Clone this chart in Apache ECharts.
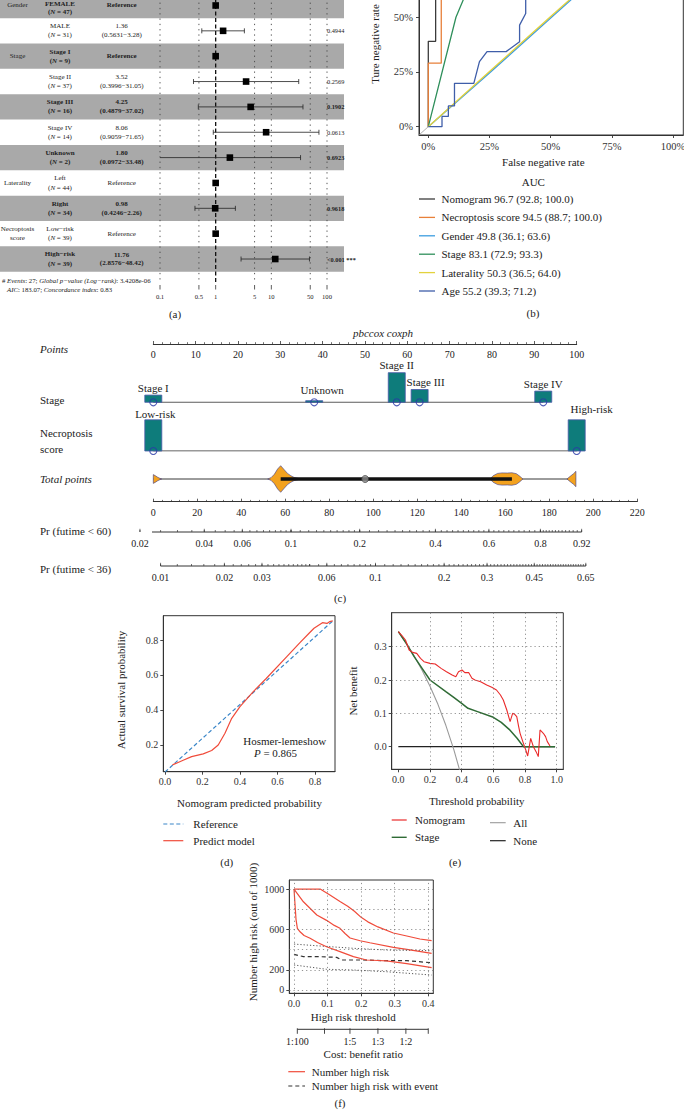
<!DOCTYPE html>
<html><head><meta charset="utf-8">
<script src="https://cdn.jsdelivr.net/npm/echarts@6/dist/echarts.min.js"></script>
<style>html,body{margin:0;padding:0;background:#fff}#c{width:684px;height:1110px}</style>
</head><body><div id="c"></div>
<script>
const FONT = '"Liberation Serif","Times New Roman",serif';

// ===== (a) forest plot =====
const forestGroups = ['Gender', '', 'Stage', '', '', '', '', 'Laterality', '', 'Necroptosis|score', ''];
const forestSub = ['FEMALE', 'MALE', 'Stage I', 'Stage II', 'Stage III', 'Stage IV', 'Unknown', 'Left', 'Right', 'Low−risk', 'High−risk'];
const forestN = [47, 31, 9, 37, 16, 14, 2, 44, 34, 39, 39];
const forestHR = [null, 1.36, null, 3.52, 4.25, 8.06, 1.80, null, 0.98, null, 11.76];
const forestLo = [null, 0.5631, null, 0.3996, 0.4879, 0.9059, 0.0972, null, 0.4246, null, 2.8576];
const forestHi = [null, 3.28, null, 31.05, 37.02, 71.65, 33.48, null, 2.26, null, 48.42];
const forestP = ['', '0.4944', '', '0.2569', '0.1902', '0.0613', '0.6923', '', '0.9618', '', '<0.001 ***'];
const forestShaded = [1, 0, 1, 0, 1, 0, 1, 0, 1, 0, 1];
const forestTicks = [0.1, 0.5, 1, 5, 10, 50, 100];

// ===== (b) ROC =====
const rocNames = ['Nomogram 96.7 (92.8; 100.0)', 'Necroptosis score 94.5 (88.7; 100.0)', 'Gender 49.8 (36.1; 63.6)', 'Stage 83.1 (72.9; 93.3)', 'Laterality 50.3 (36.5; 64.0)', 'Age 55.2 (39.3; 71.2)'];
const rocNomogram = [[0,0],[0,0.39],[0.03,0.39],[0.03,0.72],[0.06,0.9],[0.12,1],[1,1]];
const rocNecro = [[0,0],[0,0.29],[0.053,0.29],[0.053,0.78],[0.16,1],[1,1]];
const rocGender = [[0,0],[0.25,0.245],[0.5,0.496],[0.75,0.748],[1,1]];
const rocStage = [[0,0],[0.113,0.5],[0.143,0.58],[0.25,0.78],[0.5,0.93],[1,1]];
const rocLaterality = [[0,0],[0.25,0.252],[0.5,0.503],[0.75,0.752],[1,1]];
const rocAge = [[0,0],[0.056,0],[0.056,0.047],[0.082,0.047],[0.082,0.095],[0.107,0.095],[0.107,0.198],[0.186,0.198],[0.209,0.297],[0.24,0.343],[0.318,0.343],[0.373,0.388],[0.373,0.464],[0.398,0.517],[0.398,0.65],[0.5,0.72],[0.7,0.85],[1,1]];
const rocDiag = [[-0.1,-0.1],[1.1,1.1]];
const rocTicks = [0, 0.25, 0.5, 0.75, 1];

// ===== (c) nomogram =====
const stageLevels = ['Stage I', 'Unknown', 'Stage II', 'Stage III', 'Stage IV'];
const stagePoints = [0, 38.0, 57.5, 62.9, 92.1];
const stageCounts = [9, 2, 37, 16, 14];
const riskLevels = ['Low-risk', 'High-risk'];
const riskPoints = [0, 100];
const riskCounts = [39, 39];
const violinShapes = [
  [[0,0.33],[1,0.24],[2,0.13],[3,0.05],[3.8,0]],
  [[52,0],[53.5,0.1],[55,0.35],[56.5,0.75],[57.9,1],[59.5,0.7],[61,0.42],[62.5,0.25],[64,0.12],[66,0.04],[68,0]],
  [[153,0],[154.5,0.25],[156.5,0.42],[158.5,0.46],[161,0.45],[163,0.47],[165,0.4],[166.5,0.22],[168,0]],
  [[188,0],[189.5,0.2],[191,0.4],[192.1,0.58]]
];
const totalIQR = [57.9, 163];
const totalMedian = 96.3;
const pr60Labels = [0.02, 0.04, 0.06, 0.1, 0.2, 0.4, 0.6, 0.8, 0.92];
const pr36Labels = [0.01, 0.02, 0.03, 0.06, 0.1, 0.2, 0.3, 0.45, 0.65];
const pr60AnchorTotal = 62.6;   // total points where Pr(futime<60)=0.1
const pr36AnchorTotal = 101.0;  // total points where Pr(futime<36)=0.1
const prSlope = 0.02405;        // change of log(-log(1-p)) per total point

// ===== (d) calibration =====
const calRef = [[0,0.045],[0.895,0.909]];
const calPred = [[0.04,0.086],[0.07,0.1],[0.1,0.114],[0.142,0.133],[0.204,0.149],[0.249,0.168],[0.284,0.2],[0.32,0.267],[0.356,0.352],[0.4,0.419],[0.471,0.505],[0.54,0.58],[0.65,0.705],[0.72,0.785],[0.77,0.84],[0.795,0.867],[0.84,0.899],[0.864,0.895],[0.878,0.905],[0.895,0.909]];

// ===== (e) decision curve =====
const dcaNomogram = [[0,0.345],[0.02,0.335],[0.045,0.32],[0.068,0.29],[0.09,0.283],[0.116,0.28],[0.14,0.265],[0.162,0.255],[0.2,0.25],[0.233,0.248],[0.27,0.235],[0.304,0.225],[0.34,0.215],[0.363,0.21],[0.38,0.225],[0.402,0.23],[0.42,0.222],[0.445,0.222],[0.465,0.205],[0.484,0.2],[0.52,0.195],[0.558,0.185],[0.59,0.178],[0.62,0.17],[0.645,0.155],[0.663,0.14],[0.685,0.11],[0.706,0.075],[0.722,0.1],[0.735,0.097],[0.748,0.09],[0.76,0.06],[0.769,0.04],[0.79,0.01],[0.805,-0.01],[0.817,-0.028],[0.836,0.025],[0.853,0],[0.87,-0.015],[0.884,-0.03],[0.895,0.05],[0.916,0.04],[0.93,0.03],[0.941,0.015],[0.958,0.002]];
const dcaStage = [[0,0.345],[0.05,0.31],[0.1,0.27],[0.15,0.235],[0.2,0.2],[0.3,0.165],[0.35,0.148],[0.4,0.13],[0.44,0.115],[0.5,0.105],[0.6,0.088],[0.65,0.073],[0.7,0.052],[0.75,0.025],[0.79,0],[0.99,0]];
const dcaAll = [[0,0.345],[0.05,0.31],[0.1,0.272],[0.15,0.229],[0.2,0.181],[0.25,0.127],[0.3,0.064],[0.35,-0.008],[0.4,-0.092]];
const dcaNone = [[0,0],[0.99,0]];

// ===== (f) clinical impact =====
const ciHighUpper = [[0,1000],[0.078,1000],[0.107,941],[0.137,878],[0.16,830],[0.18,780],[0.2,720],[0.22,675],[0.25,625],[0.296,565],[0.336,535],[0.375,505],[0.41,490]];
const ciHigh = [[0,1000],[0.028,874],[0.068,743],[0.097,690],[0.12,640],[0.137,611],[0.152,560],[0.167,515],[0.197,488],[0.226,468],[0.296,423],[0.336,403],[0.41,363]];
const ciHighLower = [[0,1000],[0.003,850],[0.006,700],[0.01,610],[0.018,577],[0.03,540],[0.048,512],[0.07,470],[0.097,429],[0.137,380],[0.177,330],[0.216,297],[0.25,292],[0.275,288],[0.336,262],[0.41,221]];
const ciEvent = [[0,353],[0.028,330],[0.077,330],[0.127,323],[0.142,297],[0.206,297],[0.275,290],[0.336,290],[0.41,270]];
const ciEventUpper = [[0,455],[0.077,436],[0.177,413],[0.275,396],[0.41,389]];
const ciEventLower = [[0,248],[0.038,231],[0.097,205],[0.177,198],[0.275,181],[0.41,148]];
const cbThresholds = [0.0099, 0.0909, 0.1667, 0.25, 0.3333, 0.4];
const cbLabels = ['1:100', '', '1:5', '1:3', '1:2', ''];

// ================= build chart =================
const chart = echarts.init(document.getElementById('c'), null, {renderer: 'svg', width: 684, height: 1110});
const grids = [], xAxes = [], yAxes = [], series = [], elements = [];
const AX = '#333';

function hidden(gi, min, max, extra) {
  return Object.assign({gridIndex: gi, type: 'value', min, max, show: false, axisLine: {show: false, onZero: false}, splitLine: {show: false}}, extra || {});
}
function visible(gi, min, max, ticks, fmt, labels, extra) {
  return Object.assign({gridIndex: gi, type: 'value', min, max, show: true,
    axisLine: {show: true, onZero: false, lineStyle: {color: AX, width: 1}},
    axisTick: {show: true, customValues: ticks, length: 3, lineStyle: {color: AX, width: 0.9}},
    axisLabel: {show: true, customValues: labels || ticks, formatter: fmt, fontSize: 10, color: '#333', fontFamily: FONT, margin: 5},
    splitLine: {show: false}, minorTick: {show: false}}, extra || {});
}
function grid(left, top, width, height, border) {
  grids.push({left, top, width, height, containLabel: false, outerBoundsMode: 'none', show: !!border, borderColor: '#333', borderWidth: border ? 1 : 0, backgroundColor: 'rgba(0,0,0,0)'});
  return grids.length - 1;
}
function lineS(gi, data, color, width, dash, extra) {
  return Object.assign({type: 'line', xAxisIndex: gi, yAxisIndex: gi, data, symbol: 'none', silent: true, animation: false,
    lineStyle: {color, width: width || 1.2, type: dash || 'solid'}, z: 3}, extra || {});
}
function T(text, x, y, o) {
  o = o || {};
  const st = {text, x: 0, y: 0, fill: o.color || '#222', fontFamily: FONT, fontSize: o.size || 11,
    fontStyle: o.italic ? 'italic' : 'normal', fontWeight: o.bold ? 'bold' : 'normal', align: o.align || 'center', verticalAlign: 'middle'};
  if (o.rich) st.rich = o.rich;
  return {type: 'text', x, y, rotation: o.rot || 0, silent: true, style: st};
}
function Lg(x1, y1, x2, y2, color, w, dash) {
  return {type: 'line', silent: true, shape: {x1, y1, x2, y2}, style: {stroke: color, lineWidth: w || 1.2, lineDash: dash || null}};
}
const fmt1 = v => v.toFixed(1);

// ---- (a) grids 0 (table) and 1 (forest)
const FS = 7;
const rowIds = forestSub.map((_, i) => String(i));
const g0 = grid(0, -7.2, 344, 278.9);
xAxes.push(hidden(g0, 0, 1));
yAxes.push({gridIndex: g0, type: 'category', data: rowIds, inverse: true, show: false});
const g1 = grid(160, -7.2, 167, 278.9);
xAxes.push({gridIndex: g1, type: 'log', logBase: 10, min: 0.1, max: 100, show: false, axisLine: {show: false, onZero: false}, splitLine: {show: false}});
yAxes.push({gridIndex: g1, type: 'category', data: rowIds, inverse: true, show: false});

series.push({type: 'bar', xAxisIndex: g0, yAxisIndex: g0, data: forestShaded.map(s => s ? 1 : '-'), barWidth: '100%', barGap: '0%',
  itemStyle: {color: '#a9a9a9'}, silent: true, animation: false, z: 1});

series.push({type: 'custom', xAxisIndex: g1, yAxisIndex: g1, clip: false, silent: true, z: 2,
  data: forestTicks.map(v => [v, 0]),
  renderItem: (params, api) => {
    const v = forestTicks[params.dataIndex];
    const x = api.coord([v, 0])[0];
    const one = v === 1;
    return {type: 'group', children: [
      {type: 'line', shape: {x1: x, y1: -8, x2: x, y2: 283}, style: {stroke: one ? '#111' : '#444', lineWidth: one ? 1.3 : 0.9, lineDash: one ? [4, 2.5] : [1.3, 4]}},
      {type: 'line', shape: {x1: x, y1: 285, x2: x, y2: 289.5}, style: {stroke: '#333', lineWidth: 0.8}},
      {type: 'text', style: {text: String(v), x, y: 296, align: 'center', verticalAlign: 'middle', fontSize: 6.6, fontFamily: FONT, fill: '#222'}}
    ]};
  }});

series.push({type: 'custom', xAxisIndex: g0, yAxisIndex: g0, clip: false, silent: true, z: 3,
  data: rowIds.map(i => [0, Number(i)]),
  renderItem: (params, api) => {
    const i = params.dataIndex;
    const y = api.coord([0, i])[1];
    const bold = forestShaded[i] ? 'bold' : 'normal';
    const base = {fontFamily: FONT, fontSize: FS, fill: '#222', align: 'center', verticalAlign: 'middle', fontWeight: bold};
    const ch = [];
    const y1 = Math.max(y - 4.6, 4), y2 = Math.max(y + 4.6, y1 + 7.6);
    if (forestGroups[i]) {
      const parts = forestGroups[i].split('|');
      parts.forEach((p, k) => ch.push({type: 'text', style: Object.assign({}, base, {text: p, x: 17.5, y: Math.max(y + (k - (parts.length - 1) / 2) * 9, 4), fontWeight: 'normal'})}));
    }
    ch.push({type: 'text', style: Object.assign({}, base, {text: forestSub[i], x: 60, y: y1})});
    ch.push({type: 'text', style: Object.assign({}, base, {text: '({i|N} = ' + forestN[i] + ')', x: 60, y: y2,
      rich: {i: {fontStyle: 'italic', fontFamily: FONT, fontSize: FS, fontWeight: bold, fill: '#222'}}})});
    if (forestHR[i] == null) {
      ch.push({type: 'text', style: Object.assign({}, base, {text: 'Reference', x: 121.7, y: Math.max(y, 4)})});
    } else {
      ch.push({type: 'text', style: Object.assign({}, base, {text: forestHR[i].toFixed(2), x: 121.7, y: y - 4.4})});
      ch.push({type: 'text', style: Object.assign({}, base, {text: '(' + forestLo[i] + '−' + forestHi[i] + ')', x: 121.7, y: y + 4.4})});
    }
    if (forestP[i]) ch.push({type: 'text', style: Object.assign({}, base, {text: forestP[i], x: 327, y, align: 'left', fontSize: 6.3})});
    return {type: 'group', children: ch};
  }});

series.push({type: 'custom', xAxisIndex: g1, yAxisIndex: g1, clip: false, silent: true, z: 4,
  data: forestSub.map((_, i) => [forestHR[i] == null ? 1 : forestHR[i], i]),
  renderItem: (params, api) => {
    const i = params.dataIndex;
    const c = api.coord([api.value(0), i]);
    const xMin = api.coord([0.1, i])[0], xMax = api.coord([100, i])[0];
    const ch = [];
    if (forestLo[i] != null) {
      const lo = api.coord([forestLo[i], i])[0], hi = api.coord([forestHi[i], i])[0];
      ch.push({type: 'line', shape: {x1: Math.max(lo, xMin), y1: c[1], x2: Math.min(hi, xMax), y2: c[1]}, style: {stroke: '#222', lineWidth: 0.8}});
      [lo, hi].forEach(x => { if (x >= xMin - 0.1 && x <= xMax + 0.1) ch.push({type: 'line', shape: {x1: x, y1: c[1] - 2.5, x2: x, y2: c[1] + 2.5}, style: {stroke: '#222', lineWidth: 0.8}}); });
    }
    ch.push({type: 'rect', shape: {x: c[0] - 3.3, y: c[1] - 3.3, width: 6.6, height: 6.6}, style: {fill: '#000'}});
    return {type: 'group', children: ch};
  }});

const itRich = {i: {fontStyle: 'italic', fontFamily: FONT, fontSize: 6.8, fill: '#222'}};
elements.push(T('# {i|Events}: 27; {i|Global p−value (Log−rank)}: 3.4208e-06', 2, 280, {align: 'left', size: 6.8, rich: itRich}));
elements.push(T('{i|AIC}: 183.07; {i|Concordance index}: 0.83', 7, 289.5, {align: 'left', size: 6.8, rich: itRich}));
elements.push(T('(a)', 175, 314, {size: 11}));

// ---- (b) ROC grid 2
const g2 = grid(419, -2, 264.3, 137, true);
const pct = v => Math.round(v * 100) + '%';
xAxes.push(visible(g2, -0.038, 1.042, rocTicks, pct, null, {axisLabel: {customValues: rocTicks, formatter: pct, fontSize: 10.5, color: '#333', fontFamily: FONT, margin: 6}}));
yAxes.push(visible(g2, -0.038, 0.588, [0, 0.25, 0.5], pct, null, {axisLabel: {customValues: [0, 0.25, 0.5], formatter: pct, fontSize: 10.5, color: '#333', fontFamily: FONT, margin: 6}}));
series.push(lineS(g2, rocDiag, '#9a9a9a', 0.8));
const rocCurves = [rocNomogram, rocNecro, rocGender, rocStage, rocLaterality, rocAge];
const rocColors = ['#3b3b3b', '#e8803a', '#3d9de0', '#2f8f5b', '#e3d23d', '#3f5ea9'];
rocCurves.forEach((d, k) => series.push(lineS(g2, d, rocColors[k], 1.3)));
elements.push(T('Ture negative rate', 375, 44, {rot: Math.PI / 2}));
elements.push(T('False negative rate', 543.3, 162.3));
elements.push(T('AUC', 533.3, 182.3));
rocNames.forEach((n, k) => {
  const y = 199 + k * 18.4;
  elements.push(Lg(419, y, 435, y, rocColors[k], 1.3));
  elements.push(T(n, 441.5, y, {align: 'left'}));
});
elements.push(T('(b)', 533, 313));

// ---- (c) nomogram
const g3 = grid(153.3, 330, 423.4, 14);
xAxes.push({gridIndex: g3, type: 'value', min: 0, max: 100, interval: 10, show: true,
  axisLine: {show: true, onZero: false, lineStyle: {color: AX}},
  axisTick: {show: true, inside: true, length: 3, lineStyle: {color: AX, width: 0.8}},
  minorTick: {show: true, splitNumber: 5, length: 1.8, lineStyle: {color: AX, width: 0.7}},
  axisLabel: {fontSize: 10, color: '#222', fontFamily: FONT, margin: 5}, splitLine: {show: false}});
yAxes.push(hidden(g3, 0, 1));

const g4 = grid(153.3, 362.3, 423.4, 40);
xAxes.push(hidden(g4, 0, 100)); yAxes.push(hidden(g4, 0, 50));
const g5 = grid(153.3, 411, 423.4, 40);
xAxes.push(hidden(g5, 0, 100)); yAxes.push(hidden(g5, 0, 50));
const labelShift = {'Unknown': [8, -3], 'Stage III': [6, 0], 'High-risk': [15, -3.5], 'Low-risk': [2, 1.5]};
function nomoRow(gi, pts, counts, levels) {
  series.push(lineS(gi, [[Math.min(...pts), 0], [Math.max(...pts), 0]], '#333', 1, null, {z: 2}));
  series.push({type: 'custom', xAxisIndex: gi, yAxisIndex: gi, clip: false, silent: true, z: 3,
    data: pts.map((p, k) => [p, counts[k]]),
    renderItem: (params, api) => {
      const k = params.dataIndex;
      const b = api.coord([api.value(0), 0]);
      const t = api.coord([api.value(0), api.value(1)]);
      const sh = labelShift[levels[k]] || [0, 0];
      return {type: 'group', children: [
        {type: 'rect', shape: {x: b[0] - 8.5, y: t[1], width: 17, height: b[1] - t[1]}, style: {fill: '#0e7c7b', stroke: '#4a58a8', lineWidth: 0.8}},
        {type: 'text', style: {text: levels[k], x: b[0] + sh[0], y: t[1] - 7.5 + sh[1], align: 'center', verticalAlign: 'middle', fontSize: 11, fontFamily: FONT, fill: '#222'}}
      ]};
    }});
  series.push({type: 'scatter', xAxisIndex: gi, yAxisIndex: gi, data: pts.map(p => [p, 0]), symbol: 'circle', symbolSize: 7, silent: true, z: 4,
    itemStyle: {color: 'rgba(0,0,0,0)', borderColor: '#2a3aa8', borderWidth: 1.1}});
}
nomoRow(g4, stagePoints, stageCounts, stageLevels);
nomoRow(g5, riskPoints, riskCounts, riskLevels);

const g6 = grid(153.3, 465.7, 484, 26.6);
xAxes.push(hidden(g6, 0, 220)); yAxes.push(hidden(g6, -1, 1));
const totalMin = Math.min(...stagePoints) + Math.min(...riskPoints);
const totalMax = Math.max(...stagePoints) + Math.max(...riskPoints);
series.push(lineS(g6, [[totalMin, 0], [totalMax, 0]], '#222', 0.9, null, {z: 2}));
series.push({type: 'custom', xAxisIndex: g6, yAxisIndex: g6, clip: false, silent: true, z: 3,
  data: violinShapes.map(s => [s[0][0], 0]),
  renderItem: (params, api) => {
    const s = violinShapes[params.dataIndex];
    const top = s.map(([x, h]) => api.coord([x, h]));
    const bot = s.slice().reverse().map(([x, h]) => api.coord([x, -h]));
    return {type: 'polygon', shape: {points: top.concat(bot)}, style: {fill: '#f3a21e', stroke: '#3a3a8c', lineWidth: 0.6}};
  }});
series.push(lineS(g6, totalIQR.map(v => [v, 0]), '#111', 3.4, null, {z: 4}));
series.push({type: 'scatter', xAxisIndex: g6, yAxisIndex: g6, data: [[totalMedian, 0]], symbol: 'circle', symbolSize: 7, silent: true, z: 5,
  itemStyle: {color: '#8a8a8a', borderColor: '#333', borderWidth: 0.8}});

const g7 = grid(153.3, 488, 484, 13.7);
xAxes.push({gridIndex: g7, type: 'value', min: 0, max: 220, interval: 20, show: true,
  axisLine: {show: true, onZero: false, lineStyle: {color: AX}},
  axisTick: {show: true, inside: true, length: 3, lineStyle: {color: AX, width: 0.8}},
  minorTick: {show: true, splitNumber: 5, length: 1.8, lineStyle: {color: AX, width: 0.7}},
  axisLabel: {fontSize: 10, color: '#222', fontFamily: FONT, margin: 5.5}, splitLine: {show: false}});
yAxes.push(hidden(g7, 0, 1));

function totalFromProb(p, anchor) {
  return anchor + (Math.log(-Math.log(1 - p)) - Math.log(-Math.log(0.9))) / prSlope;
}
function range(a, b, s) { const r = []; for (let k = 0; a + k * s <= b + 1e-9; k++) r.push(+(a + k * s).toFixed(5)); return r; }
function probAxis(gi, labels, minor, anchor) {
  const ticks = minor.map(p => ({p, major: false})).concat(labels.map(p => ({p, major: true})));
  series.push(lineS(gi, [[totalFromProb(labels[0], anchor), 0], [totalFromProb(labels[labels.length - 1], anchor), 0]], '#333', 1, null, {clip: false}));
  series.push({type: 'custom', xAxisIndex: gi, yAxisIndex: gi, clip: false, silent: true, z: 3,
    data: ticks.map(t => [totalFromProb(t.p, anchor), 0]),
    renderItem: (params, api) => {
      const t = ticks[params.dataIndex];
      const pt = api.coord([api.value(0), 0]);
      const ch = [{type: 'line', shape: {x1: pt[0], y1: pt[1], x2: pt[0], y2: pt[1] - (t.major ? 3.2 : 2)}, style: {stroke: '#333', lineWidth: 0.7}}];
      if (t.major) ch.push({type: 'text', style: {text: String(t.p), x: pt[0], y: pt[1] + 11, align: 'center', verticalAlign: 'middle', fontSize: 10, fontFamily: FONT, fill: '#222'}});
      return {type: 'group', children: ch};
    }});
}
const g8 = grid(153.3, 521, 484, 11);
xAxes.push(hidden(g8, 0, 220)); yAxes.push(hidden(g8, 0, 1));
probAxis(g8, pr60Labels, [...range(0.02, 0.1, 0.005), ...range(0.1, 0.2, 0.01), ...range(0.2, 0.8, 0.02), ...range(0.8, 0.92, 0.01)], pr60AnchorTotal);
const g9 = grid(153.3, 555, 484, 11);
xAxes.push(hidden(g9, 0, 220)); yAxes.push(hidden(g9, 0, 1));
probAxis(g9, pr36Labels, [...range(0.01, 0.05, 0.002), ...range(0.05, 0.1, 0.005), ...range(0.1, 0.65, 0.01)], pr36AnchorTotal);

elements.push(T('pbccox coxph', 383, 333, {italic: true}));
elements.push(T('Points', 40, 348.5, {align: 'left', italic: true}));
elements.push(T('Stage', 40, 399.5, {align: 'left'}));
elements.push(T('Necroptosis', 40, 433.3, {align: 'left'}));
elements.push(T('score', 40, 449, {align: 'left'}));
elements.push(T('Total points', 40, 479, {align: 'left', italic: true}));
elements.push(T('Pr (futime < 60)', 40, 531, {align: 'left'}));
elements.push(T('Pr (futime < 36)', 40, 569.3, {align: 'left'}));
elements.push(T('(c)', 340, 598));

// ---- (d) calibration grid 10
const g10 = grid(163.3, 615.7, 171.7, 156, true);
xAxes.push(visible(g10, -0.009, 0.907, [0, 0.2, 0.4, 0.6, 0.8], fmt1));
yAxes.push(visible(g10, 0.047, 0.939, [0.2, 0.4, 0.6, 0.8], fmt1));
series.push(lineS(g10, calRef, '#3a86c8', 1.2, [4, 2.5]));
series.push(lineS(g10, calPred, '#f04b3a', 1.2));
elements.push(T('Hosmer-lemeshow', 284.7, 741));
elements.push(T('{i|P} = 0.865', 275.5, 752.7, {rich: {i: {fontStyle: 'italic', fontFamily: FONT, fontSize: 11, fill: '#222'}}}));
elements.push(T('Nomogram predicted probability', 249.5, 803.3));
elements.push(T('Actual survival probability', 121, 690, {rot: Math.PI / 2}));
elements.push(Lg(163.3, 824, 183.3, 824, '#3a86c8', 1.2, [4, 2.5]));
elements.push(T('Reference', 193.3, 824, {align: 'left'}));
elements.push(Lg(163.3, 840.7, 183.3, 840.7, '#f04b3a', 1.2));
elements.push(T('Predict model', 193.3, 840.7, {align: 'left'}));
elements.push(T('(d)', 226.7, 861.7));

// ---- (e) DCA grid 11
const g11 = grid(391.7, 612.7, 171.6, 156.6, true);
xAxes.push(visible(g11, -0.042, 1.042, [0, 0.2, 0.4, 0.6, 0.8, 1], fmt1));
yAxes.push(visible(g11, -0.068, 0.402, [0, 0.1, 0.2, 0.3], fmt1));
const dotted = {type: [1.2, 3], color: '#777', width: 0.8};
series.push(lineS(g11, dcaNone, '#222', 1.2, null, {z: 2,
  markLine: {silent: true, symbol: ['none', 'none'], label: {show: false}, animation: false, lineStyle: dotted,
    data: [{xAxis: 0.2}, {xAxis: 0.4}, {xAxis: 0.6}, {xAxis: 0.8}, {xAxis: 1.0}, {yAxis: 0.1}, {yAxis: 0.2}, {yAxis: 0.3}]}}));
series.push(lineS(g11, dcaAll, '#9a9a9a', 1.1));
series.push(lineS(g11, dcaStage, '#2f6b35', 1.5));
series.push(lineS(g11, dcaNomogram, '#ea2a2a', 1.1));
elements.push(T('Net benefit', 353.3, 691, {rot: Math.PI / 2}));
elements.push(T('Threshold probability', 476.7, 800.7));
elements.push(Lg(391.7, 820, 406.7, 820, '#ea2a2a', 1.2));
elements.push(T('Nomogram', 415, 819.5, {align: 'left'}));
elements.push(Lg(391.7, 837.3, 406.7, 837.3, '#2f6b35', 1.4));
elements.push(T('Stage', 415, 837.3, {align: 'left'}));
elements.push(Lg(490, 822.7, 505.7, 822.7, '#9a9a9a', 1.1));
elements.push(T('All', 513.3, 822.7, {align: 'left'}));
elements.push(Lg(490, 840.7, 505.7, 840.7, '#222', 1.2));
elements.push(T('None', 513.3, 840.7, {align: 'left'}));
elements.push(T('(e)', 455, 861.7));

// ---- (f) clinical impact grid 12
const g12 = grid(289.3, 880, 144, 113.3, true);
xAxes.push(visible(g12, -0.014, 0.415, [0, 0.1, 0.2, 0.3, 0.4], fmt1));
yAxes.push(visible(g12, -33, 1090, [0, 200, 600, 1000], v => String(v)));
series.push(lineS(g12, ciEventUpper, '#555', 1, [1.2, 2], {z: 2,
  markLine: {silent: true, symbol: ['none', 'none'], label: {show: false}, animation: false, lineStyle: dotted,
    data: [{xAxis: 0}, {xAxis: 0.1}, {xAxis: 0.2}, {xAxis: 0.3}, {xAxis: 0.4}, {yAxis: 0}, {yAxis: 200}, {yAxis: 400}, {yAxis: 600}, {yAxis: 800}, {yAxis: 1000}]}}));
series.push(lineS(g12, ciEventLower, '#555', 1, [1.2, 2]));
series.push(lineS(g12, ciEvent, '#333', 1.2, [4, 3]));
series.push(lineS(g12, ciHighUpper, '#f04b3a', 1.2));
series.push(lineS(g12, ciHigh, '#f04b3a', 1.2));
series.push(lineS(g12, ciHighLower, '#f04b3a', 1.2));
const g13 = grid(289.3, 1020, 144, 9.3);
xAxes.push(hidden(g13, -0.014, 0.415)); yAxes.push(hidden(g13, 0, 1));
series.push(lineS(g13, [[cbThresholds[0], 0], [cbThresholds[cbThresholds.length - 1], 0]], '#333', 1, null, {clip: false}));
series.push({type: 'custom', xAxisIndex: g13, yAxisIndex: g13, clip: false, silent: true, z: 3,
  data: cbThresholds.map(t => [t, 0]),
  renderItem: (params, api) => {
    const pt = api.coord([api.value(0), 0]);
    const lab = cbLabels[params.dataIndex];
    const ch = [{type: 'line', shape: {x1: pt[0], y1: pt[1] - 1, x2: pt[0], y2: pt[1] + 4.5}, style: {stroke: '#333', lineWidth: 0.9}}];
    if (lab) ch.push({type: 'text', style: {text: lab, x: pt[0], y: pt[1] + 12.4, align: 'center', verticalAlign: 'middle', fontSize: 10, fontFamily: FONT, fill: '#222'}});
    return {type: 'group', children: ch};
  }});
elements.push(T('Number high risk (out of 1000)', 253, 932, {rot: Math.PI / 2}));
elements.push(T('High risk threshold', 353.3, 1017.3));
elements.push(T('Cost: benefit ratio', 363.3, 1054));
elements.push(Lg(288.3, 1071.7, 305, 1071.7, '#f04b3a', 1.2));
elements.push(T('Number high risk', 311.7, 1071.7, {align: 'left'}));
elements.push(Lg(288.3, 1086, 305, 1086, '#333', 1.2, [4, 3]));
elements.push(T('Number high risk with event', 311.7, 1086, {align: 'left'}));
elements.push(T('(f)', 340, 1102.5));

chart.setOption({
  animation: false,
  backgroundColor: '#ffffff',
  textStyle: {fontFamily: FONT},
  grid: grids, xAxis: xAxes, yAxis: yAxes, series,
  graphic: {elements}
});
</script></body></html>
